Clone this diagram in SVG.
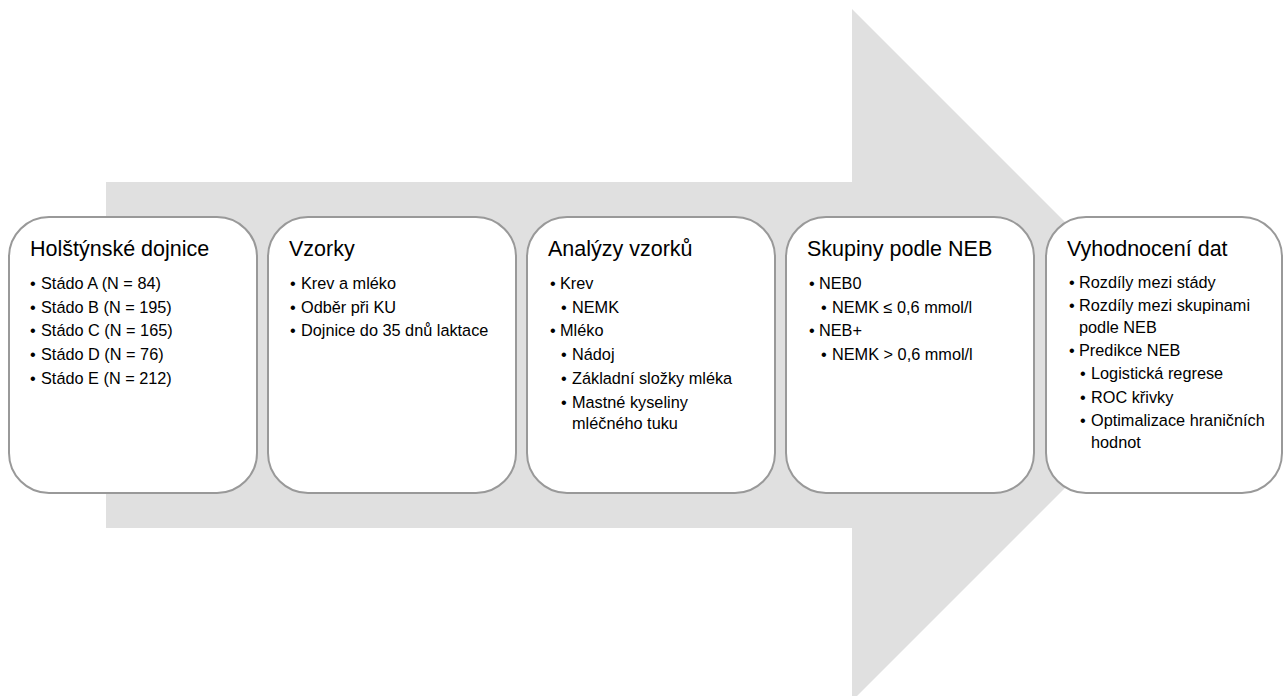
<svg xmlns="http://www.w3.org/2000/svg" width="1284" height="696" viewBox="0 0 1284 696">
<style>
.box{fill:#ffffff;stroke:#999999;stroke-width:2}
.t{font-family:"Liberation Sans",Arial,sans-serif;fill:#000000}
.h{font-size:21.5px}
.b{font-size:16.3px}
</style>
<rect width="1284" height="696" fill="#ffffff"/>
<g id="connectors">
<polygon points="106,182 852,182 852,9 1198,355 852,701 852,528 106,528" fill="#e0e0e0"/>
</g>
<g id="node1">
<rect class="box" x="9" y="217" width="248" height="276" rx="40" ry="40"/>
<text class="t h" x="30" y="256">Holštýnské dojnice</text>
<text class="t b" x="30" y="289">•</text><text class="t b" x="41" y="289">Stádo A (N = 84)</text>
<text class="t b" x="30" y="312.7">•</text><text class="t b" x="41" y="312.7">Stádo B (N = 195)</text>
<text class="t b" x="30" y="336.4">•</text><text class="t b" x="41" y="336.4">Stádo C (N = 165)</text>
<text class="t b" x="30" y="360.1">•</text><text class="t b" x="41" y="360.1">Stádo D (N = 76)</text>
<text class="t b" x="30" y="383.8">•</text><text class="t b" x="41" y="383.8">Stádo E (N = 212)</text>
</g>
<g id="node2">
<rect class="box" x="268" y="217" width="248" height="276" rx="40" ry="40"/>
<text class="t h" x="289" y="256">Vzorky</text>
<text class="t b" x="290" y="289">•</text><text class="t b" x="301" y="289">Krev a mléko</text>
<text class="t b" x="290" y="312.7">•</text><text class="t b" x="301" y="312.7">Odběr při KU</text>
<text class="t b" x="290" y="336.4">•</text><text class="t b" x="301" y="336.4">Dojnice do 35 dnů laktace</text>
</g>
<g id="node3">
<rect class="box" x="527" y="217" width="248" height="276" rx="40" ry="40"/>
<text class="t h" x="548" y="256">Analýzy vzorků</text>
<text class="t b" x="550" y="289">•</text><text class="t b" x="560" y="289">Krev</text>
<text class="t b" x="561" y="312.7">•</text><text class="t b" x="572" y="312.7">NEMK</text>
<text class="t b" x="550" y="336.4">•</text><text class="t b" x="560" y="336.4">Mléko</text>
<text class="t b" x="561" y="360.1">•</text><text class="t b" x="572" y="360.1">Nádoj</text>
<text class="t b" x="561" y="383.8">•</text><text class="t b" x="572" y="383.8">Základní složky mléka</text>
<text class="t b" x="561" y="407.5">•</text><text class="t b" x="572" y="407.5">Mastné kyseliny</text>
<text class="t b" x="572" y="429">mléčného tuku</text>
</g>
<g id="node4">
<rect class="box" x="786" y="217" width="248" height="276" rx="40" ry="40"/>
<text class="t h" x="807" y="256">Skupiny podle NEB</text>
<text class="t b" x="809" y="289">•</text><text class="t b" x="819" y="289">NEB0</text>
<text class="t b" x="821" y="312.7">•</text><text class="t b" x="832" y="312.7">NEMK ≤ 0,6 mmol/l</text>
<text class="t b" x="809" y="336.4">•</text><text class="t b" x="819" y="336.4">NEB+</text>
<text class="t b" x="821" y="360.1">•</text><text class="t b" x="832" y="360.1">NEMK &gt; 0,6 mmol/l</text>
</g>
<g id="node5">
<rect class="box" x="1046" y="217" width="236" height="276" rx="40" ry="40"/>
<text class="t h" x="1067" y="256">Vyhodnocení dat</text>
<text class="t b" x="1069" y="288">•</text><text class="t b" x="1079" y="288">Rozdíly mezi stády</text>
<text class="t b" x="1069" y="311">•</text><text class="t b" x="1079" y="311">Rozdíly mezi skupinami</text>
<text class="t b" x="1079" y="333">podle NEB</text>
<text class="t b" x="1069" y="356">•</text><text class="t b" x="1079" y="356">Predikce NEB</text>
<text class="t b" x="1080" y="379">•</text><text class="t b" x="1091" y="379">Logistická regrese</text>
<text class="t b" x="1080" y="402.5">•</text><text class="t b" x="1091" y="402.5">ROC křivky</text>
<text class="t b" x="1080" y="426">•</text><text class="t b" x="1091" y="426">Optimalizace hraničních</text>
<text class="t b" x="1091" y="448">hodnot</text>
</g>
</svg>
